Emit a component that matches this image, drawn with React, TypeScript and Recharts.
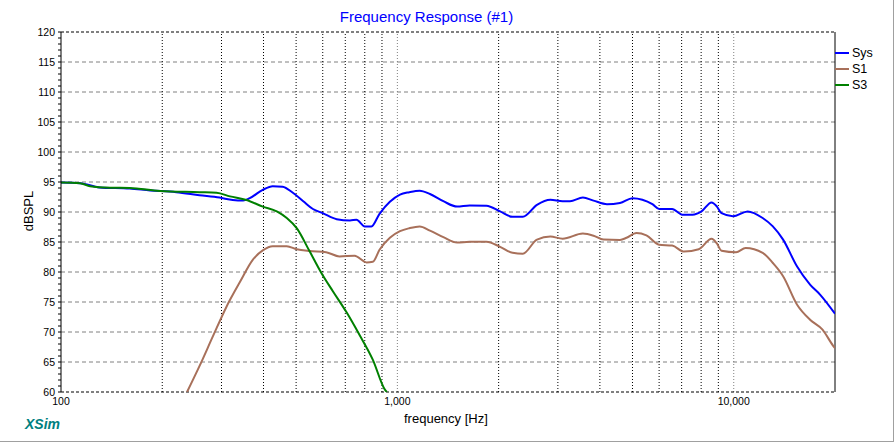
import { LineChart, Line, XAxis, YAxis, CartesianGrid, ReferenceLine } from 'recharts'

// Frequency response (Hz, dBSPL)
const sysFreq = [
  100, 114, 130, 160, 184, 220, 258, 296, 324, 348, 364, 398, 426, 456, 489, 525, 561, 600,
  660, 723, 756, 800, 837, 885, 950, 1018, 1085, 1165, 1250, 1370, 1505, 1640, 1840, 2020,
  2200, 2360, 2600, 2850, 3100, 3260, 3560, 3830, 4200, 4590, 5000, 5350, 5730, 6000, 6560,
  7030, 7540, 8020, 8590, 8900, 9200, 9940, 11000, 12190, 13070, 14020, 15430, 16860, 18080,
  20000,
]
const sysDb = [
  94.9, 94.8, 94.1, 93.9, 93.6, 93.3, 92.8, 92.4, 92.0, 91.9, 92.3, 93.7, 94.3, 94.2, 93.2,
  91.8, 90.5, 89.8, 88.8, 88.6, 88.7, 87.6, 87.6, 89.7, 91.7, 92.9, 93.3, 93.55, 93.0, 91.8,
  90.9, 91.1, 91.05, 90.1, 89.2, 89.2, 91.2, 92.05, 91.8, 91.8, 92.4, 91.9, 91.3, 91.5, 92.3,
  92.05, 91.3, 90.5, 90.5, 89.55, 89.55, 90.1, 91.6, 90.95, 89.8, 89.3, 90.1, 89.0, 87.6,
  85.4, 80.9, 77.9, 76.2, 73.05,
]

const s1Freq = [
  237, 258, 283, 311, 341, 372, 398, 426, 469, 502, 549, 614, 673, 746, 810, 845, 885, 950,
  1018, 1085, 1165, 1250, 1370, 1505, 1640, 1840, 2020, 2200, 2360, 2600, 2850, 3100, 3560,
  3830, 4100, 4590, 4800, 5140, 5500, 6000, 6560, 7120, 7870, 8590, 8900, 9200, 10160, 10850,
  12190, 13070, 14020, 15430, 16860, 18360, 19750, 20000,
]
const s1Db = [
  60.0, 64.3, 69.3, 74.3, 78.4, 82.05, 83.6, 84.3, 84.3, 83.8, 83.5, 83.3, 82.6, 82.7, 81.6,
  81.7, 83.7, 85.7, 86.8, 87.3, 87.6, 86.9, 85.8, 84.9, 85.05, 85.05, 84.2, 83.2, 83.05, 85.4,
  85.9, 85.55, 86.4, 86.05, 85.4, 85.35, 85.7, 86.5, 86.1, 84.55, 84.4, 83.4, 83.8, 85.55,
  84.8, 83.55, 83.3, 84.0, 83.2, 81.5, 79.3, 74.55, 72.05, 70.4, 67.7, 67.3,
]

const s3Freq = [
  100, 114, 122, 140, 160, 197, 258, 290, 318, 356, 398, 438, 469, 502, 549, 595, 643, 704,
  772, 845, 918, 930,
]
const s3Db = [
  94.9, 94.8, 94.3, 94.05, 94.0, 93.5, 93.3, 93.2, 92.6, 92.0, 90.9, 90.1, 89.0, 87.3, 83.4,
  79.8, 76.8, 73.4, 69.5, 65.4, 60.4, 60.0,
]

const seriesNames = ['Sys', 'S1', 'S3']
const seriesColors = ['#0000FF', '#A8705A', '#008000']

const xLabelTicks = [100, 1000, 10000]
const gridFreqs = [200, 300, 400, 500, 600, 700, 800, 900, 2000, 3000, 4000, 5000, 6000, 7000, 8000, 9000]
const decadeFreqs = [1000, 10000]
const yTicks = Array.from({ length: 61 }, (_, i) => 60 + i)

const toPoints = (freq: number[], db: number[]) => freq.map((f, i) => ({ f, db: db[i] }))

const FONT = '"Liberation Sans", Arial, sans-serif'

function YTick(props: any) {
  const { x, y, payload } = props
  if (payload.value % 5 !== 0) return <g />
  return (
    <text x={x} y={y} dy="0.36em" textAnchor="end" fontSize={10.5} fontFamily={FONT} fill="#000">
      {payload.value}
    </text>
  )
}

export default function App() {
  const series = [toPoints(sysFreq, sysDb), toPoints(s1Freq, s1Db), toPoints(s3Freq, s3Db)]

  return (
    <div
      style={{
        position: 'absolute',
        left: 0,
        top: 0,
        width: 894,
        height: 442,
        background: '#FFFFFF',
        fontFamily: FONT,
        boxSizing: 'border-box',
        borderRight: '1px solid #A0A0A0',
        borderBottom: '1px solid #A0A0A0',
      }}
    >
      <div
        style={{
          position: 'absolute',
          top: 8,
          left: 0,
          width: 853,
          textAlign: 'center',
          fontSize: 15,
          color: '#0000FF',
        }}
      >
        Frequency Response (#1)
      </div>

      <LineChart
        width={894}
        height={442}
        margin={{ top: 32, right: 59, bottom: 30, left: 21 }}
      >
        <CartesianGrid
          vertical={false}
          stroke="#808080"
          strokeDasharray="4 3"
          horizontalValues={[65, 70, 75, 80, 85, 90, 95, 100, 105, 110, 115]}
        />
        <XAxis
          type="number"
          dataKey="f"
          scale="log"
          domain={[100, 20000]}
          ticks={xLabelTicks}
          tickFormatter={(v: number) => v.toLocaleString('en-US')}
          axisLine={false}
          tickLine={false}
          tickSize={4}
          tickMargin={2}
          height={20}
          allowDataOverflow
          tick={{ fontSize: 10.5, fill: '#000', fontFamily: FONT }}
        />
        <YAxis
          type="number"
          dataKey="db"
          domain={[60, 120]}
          ticks={yTicks}
          interval={0}
          width={40}
          tickSize={3}
          tickMargin={3}
          stroke="#000"
          axisLine={{ stroke: '#000' }}
          tickLine={{ stroke: '#000' }}
          tick={<YTick />}
          allowDataOverflow
        />
        {gridFreqs.map((f) => (
          <ReferenceLine key={f} x={f} stroke="#000" strokeDasharray="1 2" />
        ))}
        {decadeFreqs.map((f) => (
          <ReferenceLine key={f} x={f} stroke="#808080" strokeDasharray="1 2" />
        ))}
        <ReferenceLine y={120} stroke="#000" strokeDasharray="3 2" />
        <ReferenceLine y={60} stroke="#000" strokeDasharray="3 2" />
        <ReferenceLine x={20000} stroke="#000" />
        {series.map((data, i) => (
          <Line
            key={seriesNames[i]}
            data={data}
            dataKey="db"
            type="monotone"
            stroke={seriesColors[i]}
            strokeWidth={2}
            dot={false}
            isAnimationActive={false}
          />
        ))}
      </LineChart>

      {seriesNames.map((name, i) => (
        <div
          key={name}
          style={{
            position: 'absolute',
            left: 835,
            top: 45 + i * 16,
            height: 16,
            display: 'flex',
            alignItems: 'center',
            fontSize: 12.5,
            color: '#000',
          }}
        >
          <span style={{ display: 'inline-block', width: 14, height: 2, background: seriesColors[i], marginRight: 3 }} />
          {name}
        </div>
      ))}

      <div
        style={{
          position: 'absolute',
          left: 28,
          top: 211,
          transform: 'translate(-50%, -50%) rotate(-90deg)',
          fontSize: 13,
          color: '#000',
          whiteSpace: 'nowrap',
        }}
      >
        dBSPL
      </div>

      <div
        style={{
          position: 'absolute',
          left: 404,
          top: 411,
          fontSize: 13,
          color: '#000',
          whiteSpace: 'nowrap',
        }}
      >
        frequency [Hz]
      </div>

      <div
        style={{
          position: 'absolute',
          left: 25,
          top: 416,
          fontSize: 14,
          fontWeight: 700,
          fontStyle: 'italic',
          color: '#008080',
        }}
      >
        XSim
      </div>
    </div>
  )
}
